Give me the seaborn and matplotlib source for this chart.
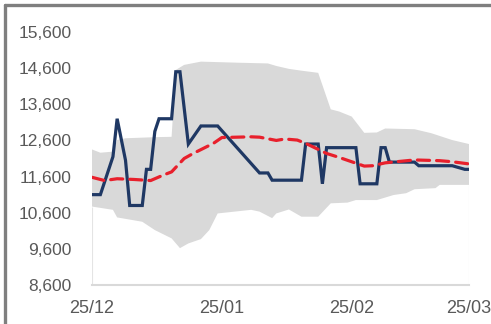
import matplotlib
matplotlib.use("Agg")
import matplotlib.pyplot as plt
import matplotlib.dates as mdates
from matplotlib.lines import Line2D
import numpy as np
import pandas as pd
import seaborn as sns

# ---- data (days counted from 25 Dec 2024) ----
start = pd.Timestamp("2024-12-25")

price_day = [0, 2, 5, 6, 8, 9, 12, 13, 14, 15, 16, 19, 20, 21, 23, 26, 30, 40, 42, 43,
             50, 51, 54, 55, 56, 63, 64, 68, 69, 70, 71, 77, 78, 86, 89, 90]
price_val = [11100, 11100, 12150, 13200, 12050, 10800, 10800, 11800, 11800, 12850,
             13200, 13200, 14500, 14500, 12500, 13000, 13000, 11700, 11700, 11500,
             11500, 12500, 12500, 11400, 12400, 12400, 11400, 11400, 12400, 12400,
             12000, 12000, 11900, 11900, 11800, 11800]

avg_day = [0, 3, 6, 10, 14, 17, 19, 22, 24, 29, 31, 38, 40, 44, 46, 49, 51, 56, 59,
           65, 67, 70, 77, 83, 86, 90]
avg_val = [11580, 11490, 11540, 11520, 11490, 11640, 11730, 12100, 12230, 12520,
           12680, 12700, 12690, 12600, 12640, 12610, 12520, 12240, 12130, 11890,
           11900, 11980, 12060, 12040, 12010, 11950]

band_hi_day = [0, 2, 5, 6, 8, 15, 19, 20, 22, 26, 35, 42, 44, 47, 50, 54, 57, 59,
               62, 65, 68, 70, 77, 81, 86, 90]
band_hi_val = [12350, 12260, 12290, 12610, 12660, 12690, 12700, 14550, 14690, 14780,
               14750, 14730, 14660, 14580, 14530, 14470, 13460, 13400, 13260, 12810,
               12820, 12930, 12910, 12800, 12610, 12500]

band_lo_day = [0, 5, 6, 12, 15, 19, 21, 23, 26, 28, 30, 34, 38, 40, 43, 44, 47, 50,
               54, 57, 61, 63, 68, 72, 75, 77, 82, 83, 90]
band_lo_val = [10770, 10680, 10470, 10350, 10120, 9890, 9620, 9750, 9870, 10120,
               10580, 10630, 10680, 10630, 10450, 10580, 10690, 10490, 10490, 10860,
               10880, 10950, 10950, 11090, 11140, 11250, 11280, 11370, 11370]

x_ticks = ["2024-12-25", "2025-01-25", "2025-02-25", "2025-03-25"]
y_ticks = [8600, 9600, 10600, 11600, 12600, 13600, 14600, 15600]


def to_dates(days):
    return start + pd.to_timedelta(days, unit="D")


price = pd.DataFrame({"date": to_dates(price_day), "value": price_val})
avg = pd.DataFrame({"date": to_dates(avg_day), "value": avg_val})

NAVY = "#1F3864"
RED = "#E8202C"
BAND = "#D9D9D9"
TEXT = "#595959"

sns.set_theme(style="white")
plt.rcParams["font.family"] = ["Liberation Sans", "DejaVu Sans"]

fig = plt.figure(figsize=(4.91, 3.24), dpi=100)
ax = fig.add_axes([92 / 491, 39 / 324, 377 / 491, 253 / 324])

# min-max range as a closed polygon
poly_x = np.concatenate([to_dates(band_hi_day).values, to_dates(band_lo_day).values[::-1]])
poly_y = np.concatenate([band_hi_val, band_lo_val[::-1]])
ax.fill(poly_x, poly_y, color=BAND, lw=0, zorder=1)

# faint edges of the range area down to the axis
edge_dates = to_dates([band_lo_day[0], band_lo_day[-1]])
ax.vlines(edge_dates, y_ticks[0], [band_lo_val[0], band_lo_val[-1]],
          colors="#E4E4E4", lw=0.8, zorder=1)

sns.lineplot(data=price, x="date", y="value", ax=ax, color=NAVY, lw=2.3,
             zorder=3, solid_joinstyle="miter")
sns.lineplot(data=avg, x="date", y="value", ax=ax, color=RED, lw=2.3,
             zorder=4, dashes=False)
ax.lines[-1].set_dashes([3.8, 2.2])
ax.lines[-1].set_dash_capstyle("round")

ax.set_xlim(pd.Timestamp(x_ticks[0]), pd.Timestamp(x_ticks[-1]))
ax.set_ylim(y_ticks[0], y_ticks[-1])
ax.set_xticks(pd.to_datetime(x_ticks))
ax.xaxis.set_major_formatter(mdates.DateFormatter("%d/%m"))
ax.set_yticks(y_ticks)
ax.set_yticklabels([f"{v:,}" for v in y_ticks])
ax.set_xlabel("")
ax.set_ylabel("")

ax.tick_params(axis="y", length=0, pad=14.5, labelsize=12.5, labelcolor=TEXT)
ax.tick_params(axis="x", length=0, pad=11, labelsize=13, labelcolor=TEXT)

for side in ["top", "right", "left"]:
    ax.spines[side].set_visible(False)
ax.spines["bottom"].set_color("#D9D9D9")
ax.spines["bottom"].set_linewidth(1.5)
ax.grid(False)
ax.set_facecolor("white")

# outer frame along the top and left
fig.add_artist(Line2D([5 / 491, 1], [1 - 5 / 324, 1 - 5 / 324],
                      transform=fig.transFigure, color="#7F7F7F", lw=2.4))
fig.add_artist(Line2D([5 / 491, 5 / 491], [0, 1 - 5 / 324],
                      transform=fig.transFigure, color="#7F7F7F", lw=2.4))

fig.savefig("out.png", dpi=100, facecolor="white")
